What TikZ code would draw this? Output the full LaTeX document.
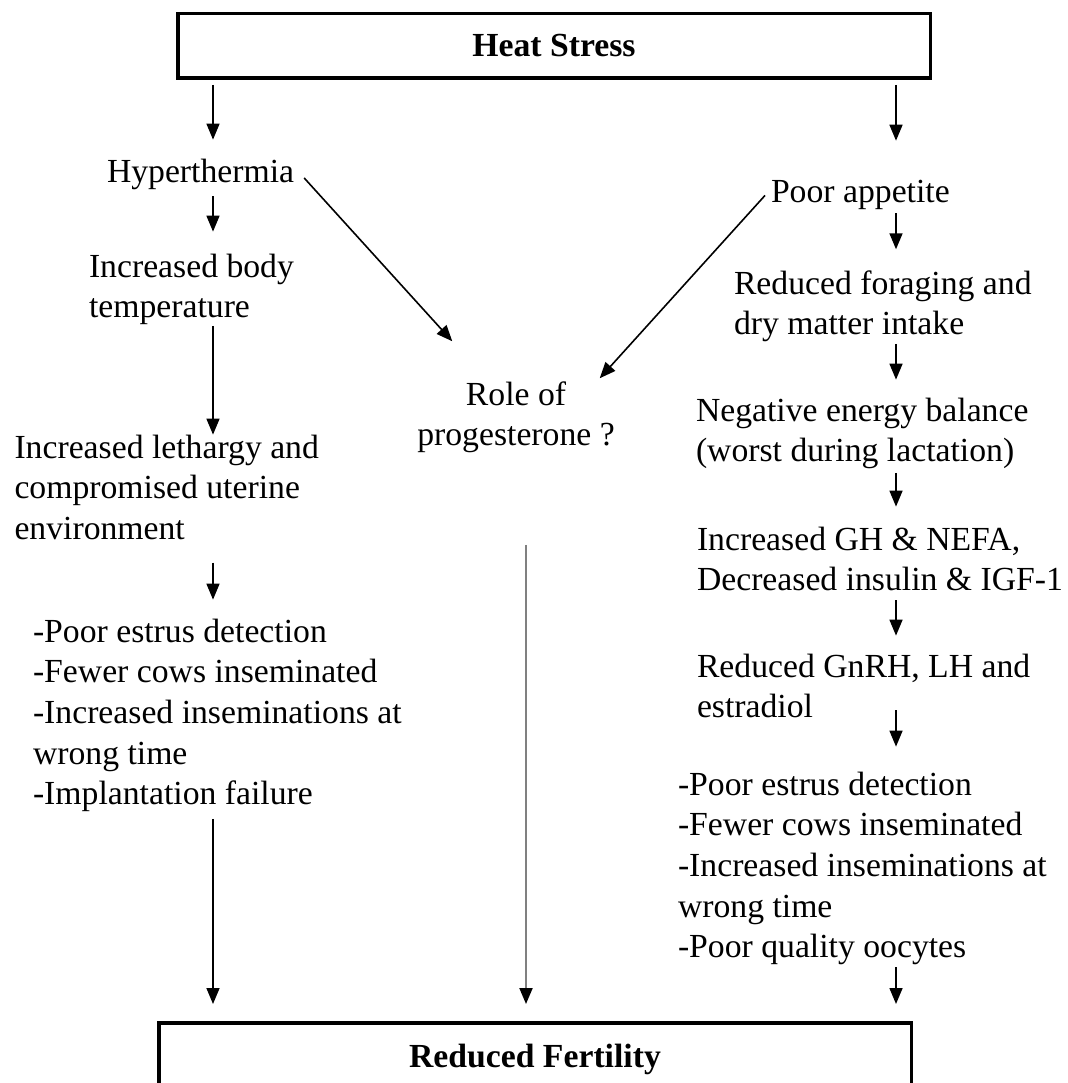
\documentclass[tikz,border=0pt]{standalone}
\usepackage{fontspec}
\setmainfont{Liberation Serif}
\usetikzlibrary{arrows.meta,calc}
\newcommand\blk[1]{\vtop{\baselineskip=40.7pt\halign{##\hfil\cr#1\crcr}}}
\newcommand\cblk[1]{\vtop{\baselineskip=40.7pt\halign{\hfil##\hfil\cr#1\crcr}}}
\tikzset{
  txt/.style={inner sep=0pt, outer sep=0pt, anchor=base west, font=\fontsize{33.7pt}{40.7pt}\selectfont},
  mainbox/.style={draw, line width=3.5pt, font=\fontsize{33.7pt}{40.7pt}\selectfont\bfseries},
  arr/.style={line width=1.6pt, -{Triangle[length=16pt,width=13pt]}},
  grayarr/.style={line width=2pt, draw=black!50, -{Triangle[length=16pt,width=13pt,color=black]}}
}
\begin{document}
\begin{tikzpicture}[x=1pt,y=-1pt]
\useasboundingbox (0,0) rectangle (1067,1083);
\fill[white] (0,0) rectangle (1067,1083);
\clip (0,0) rectangle (1067,1083);

\coordinate (cl) at (213,0);
\coordinate (cr) at (896,0);
\coordinate (cm) at (526,0);

% boxes
\node[mainbox, minimum width=752.5pt, minimum height=64.5pt] (heat) at (554,46) {Heat Stress};
\node[mainbox, anchor=north, minimum width=752.5pt, inner ysep=21.5pt, text depth=100pt] (fert) at (535,1021) {Reduced Fertility};

% left column
\node[txt] (hyper) at (107,183) {Hyperthermia};
\node[txt] (body) at (89,277) {\blk{Increased body\cr temperature}};
\node[txt] (leth) at (14.5,458) {\blk{Increased lethargy and\cr compromised uterine\cr environment}};
\node[txt] (listl) at (33,642) {\blk{-Poor estrus detection\cr -Fewer cows inseminated\cr -Increased inseminations at\cr wrong time\cr -Implantation failure}};

% middle
\node[txt, anchor=base] (role) at (516,405) {\cblk{Role of\cr progesterone ?}};

% right column
\node[txt] (poor) at (771,203) {Poor appetite};
\node[txt] (redf) at (734,294) {\blk{Reduced foraging and\cr dry matter intake}};
\node[txt] (neg) at (696,421) {\blk{Negative energy balance\cr (worst during lactation)}};
\node[txt] (gh) at (697,550) {\blk{Increased GH \& NEFA,\cr Decreased insulin \& IGF-1}};
\node[txt] (gnrh) at (697,677) {\blk{Reduced GnRH, LH and\cr estradiol}};
\node[txt] (listr) at (678,795) {\blk{-Poor estrus detection\cr -Fewer cows inseminated\cr -Increased inseminations at\cr wrong time\cr -Poor quality oocytes}};

% left arrows
\draw[arr] ($(heat.south -| cl)+(0,5)$) -- ($(hyper.north -| cl)+(0,-20)$);
\draw[arr] ($(hyper.south -| cl)+(0,6)$) -- ($(body.north -| cl)+(0,-22)$);
\draw[arr] ($(body.south -| cl)+(0,1)$) -- ($(leth.north -| cl)+(0,0)$);
\draw[arr] ($(leth.south -| cl)+(0,23)$) -- ($(listl.north -| cl)+(0,-19)$);
\draw[arr] ($(listl.south -| cl)+(0,7)$) -- ($(fert.north -| cl)+(0,-17)$);

% right arrows
\draw[arr] ($(heat.south -| cr)+(0,5)$) -- ($(poor.north -| cr)+(0,-40)$);
\draw[arr] ($(poor.south -| cr)+(0,3)$) -- ($(redf.north -| cr)+(0,-21)$);
\draw[arr] ($(redf.south -| cr)+(0,2)$) -- ($(neg.north -| cr)+(0,-18)$);
\draw[arr] ($(neg.south -| cr)+(0,4)$) -- ($(gh.north -| cr)+(0,-20)$);
\draw[arr] ($(gh.south -| cr)+(0,9)$) -- ($(gnrh.north -| cr)+(0,-18)$);
\draw[arr] ($(gnrh.south -| cr)+(0,-8)$) -- ($(listr.north -| cr)+(0,-25)$);
\draw[arr] ($(listr.south -| cr)+(0,2)$) -- ($(fert.north -| cr)+(0,-17)$);

% diagonals
\draw[arr] ($(hyper.east)+(10,3)$) -- ($(role.north west)+(35,-40)$);
\draw[arr] ($(poor.west)+(-6,0)$) -- ($(role.north east)+(-15,-3)$);

% middle gray arrow
\draw[grayarr] ($(role.south -| cm)+(0,92)$) -- ($(fert.north -| cm)+(0,-17)$);
\end{tikzpicture}
\end{document}
